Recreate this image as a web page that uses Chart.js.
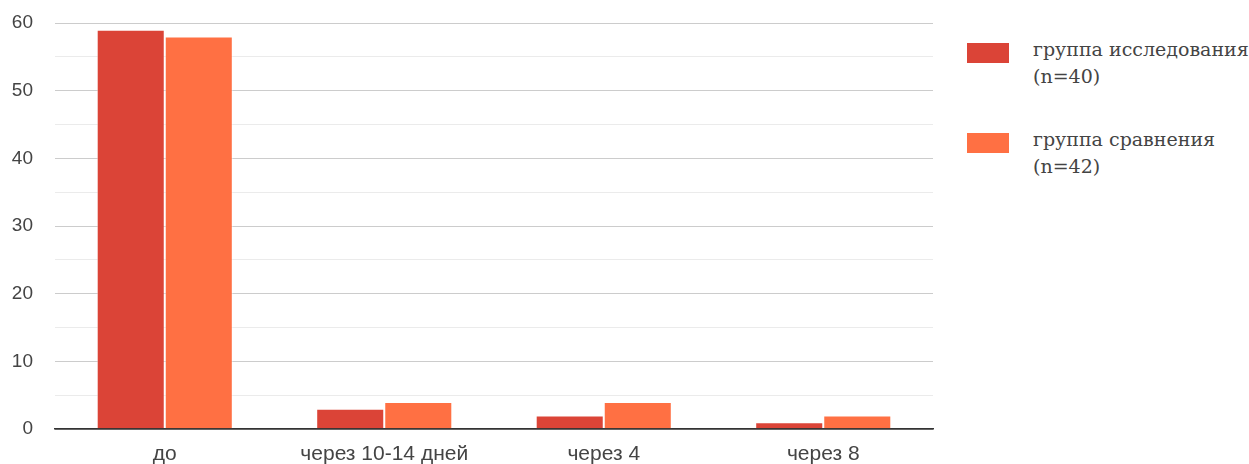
<!DOCTYPE html>
<html>
<head>
<meta charset="utf-8">
<script src="https://cdn.jsdelivr.net/npm/chart.js@4/dist/chart.umd.min.js"></script>
<style>
  html,body{margin:0;padding:0;background:#fff;}
  #wrap{position:absolute;left:0;top:0;width:945px;height:464px;}
  .leg{position:absolute;left:967px;font-family:'DejaVu Serif',serif;font-size:19px;color:#444;line-height:27px;}
  .leg .box{position:absolute;left:0;width:42px;height:20px;}
  .leg .txt{position:absolute;left:66px;white-space:nowrap;}
</style>
</head>
<body>
<div id="wrap"><canvas id="c"></canvas></div>
<div class="leg" style="top:43px"><div class="box" style="background:#db4437"></div><div class="txt" style="top:-7px">группа исследования<br>(n=40)</div></div>
<div class="leg" style="top:133px"><div class="box" style="background:#ff7043"></div><div class="txt" style="top:-7px">группа сравнения<br>(n=42)</div></div>
<script>
const categories = ['до', 'через 10-14 дней', 'через 4', 'через 8'];
const studyGroup = [59, 3, 2, 1];
const compareGroup = [58, 4, 4, 2];
const seriesNames = ['группа исследования (n=40)', 'группа сравнения (n=42)'];

const ctx = document.getElementById('c').getContext('2d');
new Chart(ctx, {
  type: 'bar',
  data: {
    labels: categories,
    datasets: [
      {label: seriesNames[0], data: studyGroup, backgroundColor: '#db4437',
       borderColor: 'rgba(255,255,255,0.5)', borderWidth: 1},
      {label: seriesNames[1], data: compareGroup, backgroundColor: '#ff7043',
       borderColor: 'rgba(255,255,255,0.5)', borderWidth: 1},
    ]
  },
  options: {
    responsive: true, maintainAspectRatio: false, animation: false,
    layout: {padding: {top: 23, right: 12, left: 0, bottom: 0}},
    categoryPercentage: 0.62, barPercentage: 1,
    plugins: {legend: {display: false}, tooltip: {enabled: false}},
    scales: {
      x: {
        grid: {display: false},
        border: {color: '#333', width: 1.5},
        ticks: {color: '#444', font: {family: "'Liberation Sans', Arial", size: 21}, padding: 5, maxRotation: 0},
        afterFit: s => { s.height = 35; s.paddingLeft = 0; s.paddingRight = 0; }
      },
      y: {
        min: 0, max: 60,
        border: {display: false},
        grid: {
          color: c => c.tick.value === 0 ? '#333' : (c.tick.value % 10 === 0 ? '#cccccc' : '#ebebeb'),
          lineWidth: c => c.tick.value === 0 ? 1.5 : 1,
          drawTicks: false
        },
        ticks: {stepSize: 5, color: '#444', padding: 22,
          font: {family: "'Liberation Sans', Arial", size: 19},
          callback: v => v % 10 === 0 ? v : ''},
        afterFit: s => { s.width = 55; s.paddingTop = 0; s.paddingBottom = 0; }
      }
    }
  }
});
</script>
</body>
</html>
